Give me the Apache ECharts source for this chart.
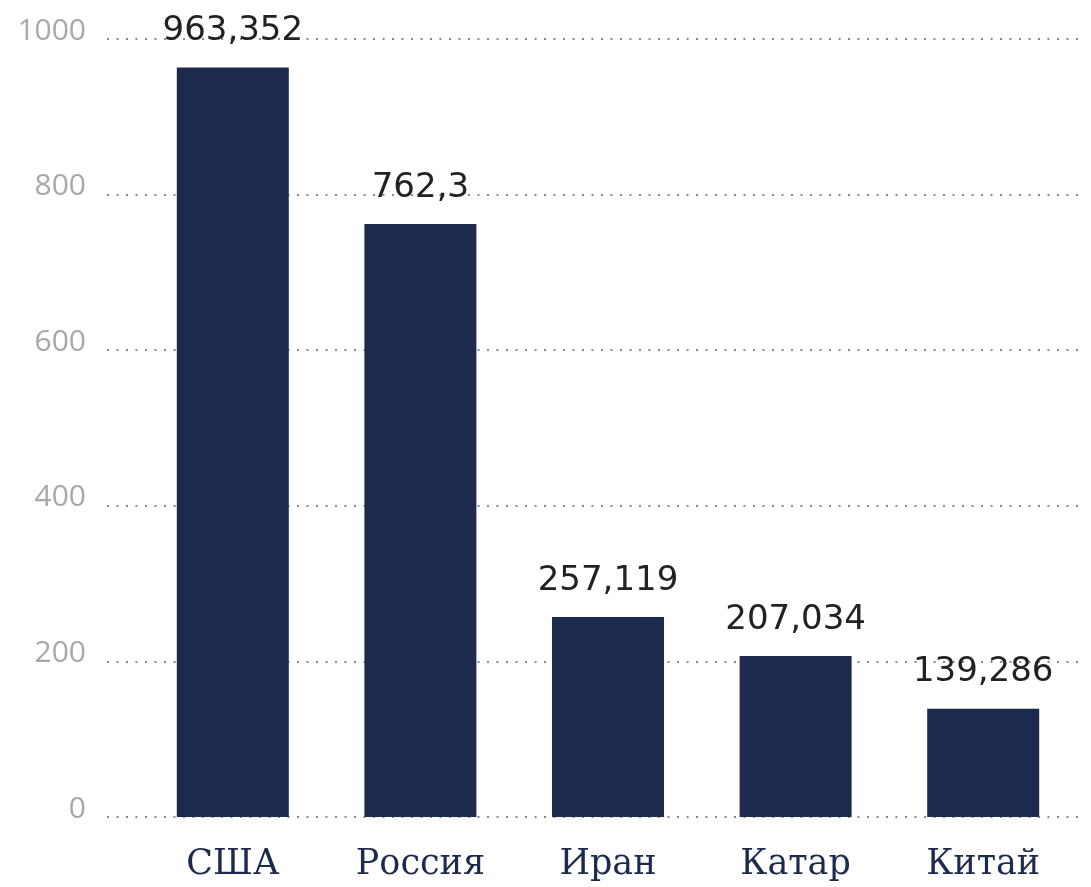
<!DOCTYPE html>
<html>
<head>
<meta charset="utf-8">
<script src="https://cdn.jsdelivr.net/npm/echarts@6/dist/echarts.min.js"></script>
<style>
  html, body { margin: 0; padding: 0; background: #fff; }
  #chart { width: 1091px; height: 887px; }
</style>
</head>
<body>
<div id="chart"></div>
<script>
var countries = ['США', 'Россия', 'Иран', 'Катар', 'Китай'];
var values = [963.352, 762.3, 257.119, 207.034, 139.286];
var valueLabels = ['963,352', '762,3', '257,119', '207,034', '139,286'];
var yTicks = [0, 200, 400, 600, 800, 1000];

var navy = '#1c2a4d';
var chart = echarts.init(document.getElementById('chart'));

var option = {
  animation: false,
  grid: [
    { left: 107, right: 6, top: 39, bottom: 70 },
    { left: 139, right: 14, top: 39, bottom: 70 }
  ],
  xAxis: [
    { type: 'category', gridIndex: 0, data: countries, show: false },
    {
      type: 'category',
      gridIndex: 1,
      data: countries,
      axisLine: { show: false },
      axisTick: { show: false },
      axisLabel: {
        margin: 30,
        color: navy,
        fontFamily: 'DejaVu Serif',
        fontSize: 35
      }
    }
  ],
  yAxis: [
    {
      type: 'value',
      gridIndex: 0,
      min: yTicks[0],
      max: yTicks[yTicks.length - 1],
      interval: 200,
      axisLine: { show: false },
      axisTick: { show: false },
      axisLabel: {
        margin: 21,
        color: '#a8a8a8',
        fontFamily: 'Open Sans',
        fontSize: 30,
        verticalAlign: 'bottom',
        lineHeight: 16,
        formatter: function (v) { return String(v); }
      },
      splitLine: {
        lineStyle: { color: '#8a8a8a', width: 2, type: [2, 7.5] }
      }
    },
    {
      type: 'value',
      gridIndex: 1,
      min: yTicks[0],
      max: yTicks[yTicks.length - 1],
      interval: 200,
      show: false,
      splitLine: { show: false }
    }
  ],
  series: [{
    type: 'bar',
    xAxisIndex: 1,
    yAxisIndex: 1,
    barWidth: 112,
    data: values,
    itemStyle: { color: navy },
    label: {
      show: true,
      position: 'top',
      distance: 19,
      color: '#222',
      fontFamily: 'DejaVu Sans',
      fontSize: 34,
      formatter: function (p) { return valueLabels[p.dataIndex]; }
    }
  }]
};
chart.setOption(option);
</script>
</body>
</html>
